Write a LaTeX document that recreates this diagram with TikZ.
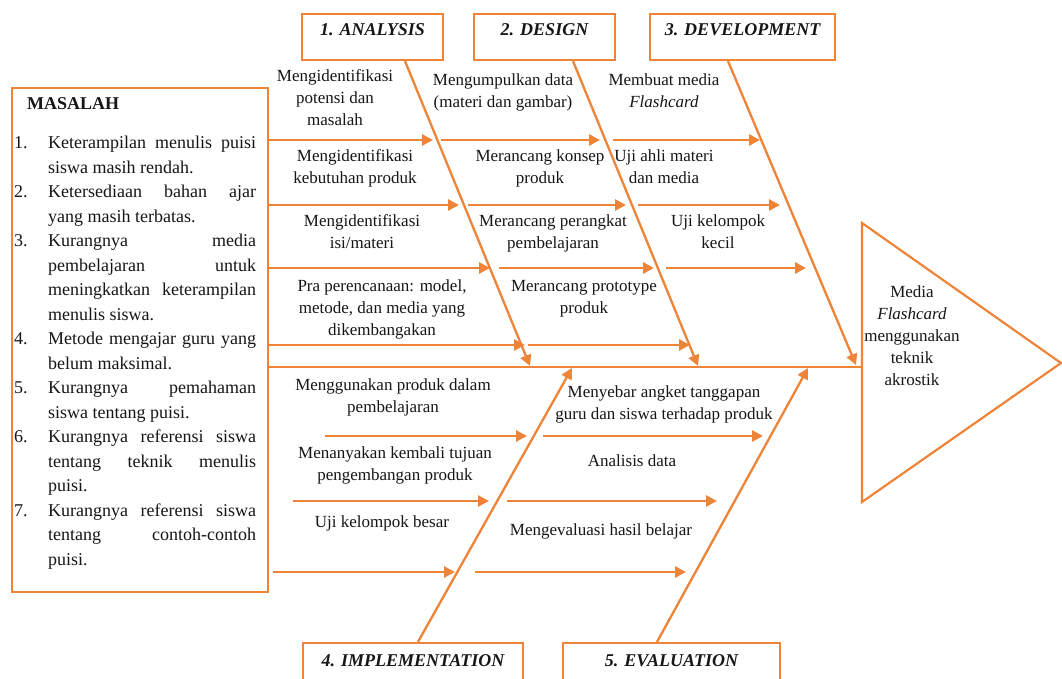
\documentclass[tikz,border=0pt]{standalone}
\usepackage{fontspec}
\setmainfont{Liberation Serif}
\usetikzlibrary{arrows.meta,calc}
\definecolor{fishorange}{RGB}{238,132,56}
\definecolor{inktext}{RGB}{22,22,22}
\begin{document}
\begin{tikzpicture}[x=1pt,y=-1pt,
  probbox/.style={draw=fishorange, line width=2.2pt, rectangle, inner sep=0pt},
  headbox/.style={draw=fishorange, line width=2.2pt, rectangle, inner xsep=4pt, inner ysep=4pt,
    font=\fontsize{18}{22}\selectfont\bfseries\itshape, text=inktext},
  topbox/.style={headbox, text height=18pt, text depth=20pt, minimum height=46pt},
  bottombox/.style={headbox, text height=19pt, text depth=30pt, minimum height=57pt},
  % labels are placed by the baseline of their last line
  lbl/.style={font=\fontsize{17}{22}\selectfont, align=center, inner sep=0pt, anchor=base, text=inktext},
  branch/.style={draw=fishorange, line width=2.8pt, -{Triangle[length=11pt,width=11pt]}},
  bone/.style={draw=fishorange, line width=2.3pt, -{Triangle[length=11pt,width=11pt]}},
]
\useasboundingbox (0,0) rectangle (1062,679);
\clip (0,0) rectangle (1062,679);
\fill[white] (0,0) rectangle (1062,679);

% ---- problem list on the left ----
\node[probbox, minimum width=256pt, minimum height=504pt] (masalah) at (140,340) {};
\node[anchor=base west, inner sep=0pt, text=inktext] (masalahtext) at (14,565) {\vbox{%
  \fontsize{18}{24.5}\selectfont
  \hbox{\hspace{13pt}\textbf{MASALAH}}
  \vskip 15pt
  \hbox{\hbox to 34pt{1.\hfil}\hbox to 208pt{Keterampilan menulis puisi}}
  \hbox{\hbox to 34pt{\hfil}\hbox to 208pt{siswa masih rendah.\hfil}}
  \hbox{\hbox to 34pt{2.\hfil}\hbox to 208pt{Ketersediaan bahan ajar}}
  \hbox{\hbox to 34pt{\hfil}\hbox to 208pt{yang masih terbatas.\hfil}}
  \hbox{\hbox to 34pt{3.\hfil}\hbox to 208pt{Kurangnya\hfil media}}
  \hbox{\hbox to 34pt{\hfil}\hbox to 208pt{pembelajaran\hfil untuk}}
  \hbox{\hbox to 34pt{\hfil}\hbox to 208pt{meningkatkan keterampilan}}
  \hbox{\hbox to 34pt{\hfil}\hbox to 208pt{menulis siswa.\hfil}}
  \hbox{\hbox to 34pt{4.\hfil}\hbox to 208pt{Metode mengajar guru yang}}
  \hbox{\hbox to 34pt{\hfil}\hbox to 208pt{belum maksimal.\hfil}}
  \hbox{\hbox to 34pt{5.\hfil}\hbox to 208pt{Kurangnya\hfil pemahaman}}
  \hbox{\hbox to 34pt{\hfil}\hbox to 208pt{siswa tentang puisi.\hfil}}
  \hbox{\hbox to 34pt{6.\hfil}\hbox to 208pt{Kurangnya referensi siswa}}
  \hbox{\hbox to 34pt{\hfil}\hbox to 208pt{tentang\hfil teknik\hfil menulis}}
  \hbox{\hbox to 34pt{\hfil}\hbox to 208pt{puisi.\hfil}}
  \hbox{\hbox to 34pt{7.\hfil}\hbox to 208pt{Kurangnya referensi siswa}}
  \hbox{\hbox to 34pt{\hfil}\hbox to 208pt{tentang\hfil contoh-contoh}}
  \hbox{\hbox to 34pt{\hfil}\hbox to 208pt{puisi.\hfil}}
}};

% ---- stage boxes ----
\node[topbox, minimum width=141pt] (analysis) at (372.5,37) {1. ANALYSIS};
\node[topbox, minimum width=141pt] (design) at (544.5,37) {2. DESIGN};
\node[topbox, minimum width=185pt] (development) at (742.5,37) {3. DEVELOPMENT};
\node[bottombox, minimum width=220pt] (implementation) at (413,671.5) {4. IMPLEMENTATION};
\node[bottombox, minimum width=217pt] (evaluation) at (671.5,671.5) {5. EVALUATION};

% ---- outcome triangle ----
\draw[fishorange, line width=2.2pt, line join=miter] (862,223) -- (1061,363) -- (862,502) -- cycle;
\coordinate (tri) at (862,367);
\node[lbl] (result) at (912,385) {Media\\\textit{Flashcard}\\menggunakan\\teknik\\akrostik};

% ---- main spine ----
\coordinate (sA) at (530,366);
\coordinate (sD) at (698,366);
\coordinate (sV) at (856,365);
\coordinate (sI) at (572,368);
\coordinate (sE) at (808,368);
\draw[fishorange, line width=2.8pt] (masalah.east |- tri) -- (tri);

% ---- stage bones ----
\draw[bone] ($(analysis.south)+(32.5,0)$) -- (sA);
\draw[bone] ($(design.south)+(28.5,0)$) -- (sD);
\draw[bone] ($(development.south)+(-14.5,0)$) -- (sV);
\draw[bone] ($(implementation.north)+(5,0)$) -- (sI);
\draw[bone] ($(evaluation.north)+(-14.5,0)$) -- (sE);

% ---- branch arrows: analysis ----
\coordinate (a1s) at (268,140); \coordinate (a1e) at (433,140);
\coordinate (a2s) at (268,205); \coordinate (a2e) at (459,205);
\coordinate (a3s) at (268,268); \coordinate (a3e) at (490,268);
\coordinate (a4s) at (268,345); \coordinate (a4e) at (525,345);
\foreach \k in {1,...,4} \draw[branch] (a\k s) -- (a\k e);
% ---- branch arrows: design ----
\coordinate (d1s) at (441,140); \coordinate (d1e) at (600,140);
\coordinate (d2s) at (468,205); \coordinate (d2e) at (626,205);
\coordinate (d3s) at (499,268); \coordinate (d3e) at (654,268);
\coordinate (d4s) at (528,345); \coordinate (d4e) at (690,345);
\foreach \k in {1,...,4} \draw[branch] (d\k s) -- (d\k e);
% ---- branch arrows: development ----
\coordinate (v1s) at (613,140); \coordinate (v1e) at (760,140);
\coordinate (v2s) at (638,205); \coordinate (v2e) at (780,205);
\coordinate (v3s) at (666,268); \coordinate (v3e) at (806,268);
\foreach \k in {1,...,3} \draw[branch] (v\k s) -- (v\k e);
% ---- branch arrows: implementation ----
\coordinate (i1s) at (325,436); \coordinate (i1e) at (527,436);
\coordinate (i2s) at (293,501); \coordinate (i2e) at (489,501);
\coordinate (i3s) at (273,572); \coordinate (i3e) at (455,572);
\foreach \k in {1,...,3} \draw[branch] (i\k s) -- (i\k e);
% ---- branch arrows: evaluation ----
\coordinate (e1s) at (543,436); \coordinate (e1e) at (763,436);
\coordinate (e2s) at (507,501); \coordinate (e2e) at (717,501);
\coordinate (e3s) at (475,572); \coordinate (e3e) at (686,572);
\foreach \k in {1,...,3} \draw[branch] (e\k s) -- (e\k e);

% ---- activity labels ----
\node[lbl] (tA1) at (335,126) {Mengidentifikasi\\potensi dan\\masalah};
\node[lbl] (tA2) at (355,184) {Mengidentifikasi\\kebutuhan produk};
\node[lbl] (tA3) at (362,248) {Mengidentifikasi\\isi/materi};
\node[lbl] (tA4) at (382,335) {Pra perencanaan: model,\\metode, dan media yang\\dikembangakan};
\node[lbl] (tD1) at (503,108) {Mengumpulkan data\\(materi dan gambar)};
\node[lbl] (tD2) at (540,184) {Merancang konsep\\produk};
\node[lbl] (tD3) at (553,248) {Merancang perangkat\\pembelajaran};
\node[lbl] (tD4) at (584,313) {Merancang prototype\\produk};
\node[lbl] (tV1) at (664,108) {Membuat media\\\textit{Flashcard}};
\node[lbl] (tV2) at (664,184) {Uji ahli materi\\dan media};
\node[lbl] (tV3) at (718,248) {Uji kelompok\\kecil};
\node[lbl] (tI1) at (393,412) {Menggunakan produk dalam\\pembelajaran};
\node[lbl] (tI2) at (395,480) {Menanyakan kembali tujuan\\pengembangan produk};
\node[lbl] (tI3) at (382,527) {Uji kelompok besar};
\node[lbl] (tE1) at (664,419) {Menyebar angket tanggapan\\guru dan siswa terhadap produk};
\node[lbl] (tE2) at (632,466) {Analisis data};
\node[lbl] (tE3) at (601,535) {Mengevaluasi hasil belajar};
\end{tikzpicture}
\end{document}
